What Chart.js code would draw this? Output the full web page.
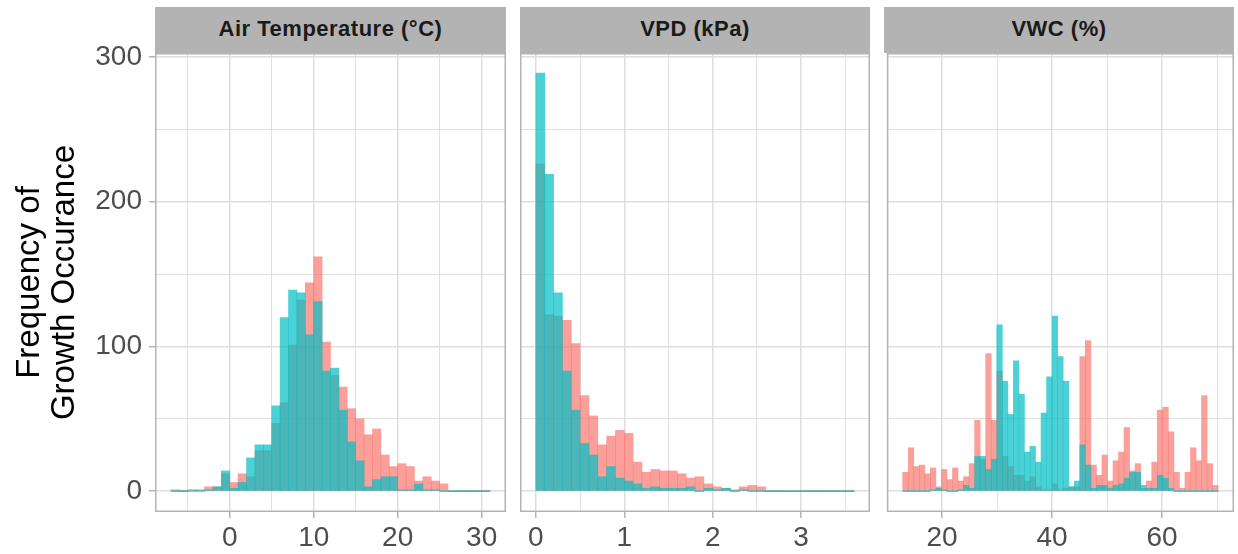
<!DOCTYPE html>
<html>
<head>
<meta charset="utf-8">
<script src="https://cdn.jsdelivr.net/npm/chart.js@4.4.1/dist/chart.umd.min.js"></script>
<style>
  html, body { margin: 0; padding: 0; background: #ffffff; }
  body { width: 1238px; height: 554px; overflow: hidden; position: relative; font-family: "Liberation Sans", Arial, sans-serif; }
  canvas { position: absolute; top: 0; }
  .strip { position: absolute; top: 7px; height: 43px; padding-bottom: 3px; background: #b3b3b3; color: #1a1a1a;
           font-weight: bold; font-size: 22px; letter-spacing: 0.5px;
           display: flex; align-items: center; justify-content: center; }
</style>
</head>
<body>
<div class="strip" style="left:155px;width:351px;">Air Temperature (°C)</div>
<div class="strip" style="left:520px;width:350px;">VPD (kPa)</div>
<div class="strip" style="left:884px;width:350px;">VWC (%)</div>
<canvas id="p1" width="506" height="554" style="left:0px"></canvas>
<canvas id="p2" width="350" height="554" style="left:520px"></canvas>
<canvas id="p3" width="350" height="554" style="left:884px"></canvas>
<script>
// ---------- data ----------
const seriesNames = ["Series 1", "Series 2"];

// Air Temperature (°C): bins of 1 °C starting at -7
const tempBinStart = -7;
const tempBinWidth = 1;
const tempSalmon = [1, 0, 0, 0, 3, 3, 12, 6, 12, 10, 28, 28, 47, 61, 101, 132, 144, 162, 103, 80,
                    72, 57, 50, 39, 43, 25, 17, 19, 17, 7, 10, 7, 5, 0, 0, 0, 0, 0];
const tempTeal   = [0, 0, 1, 1, 1, 3, 14, 2, 6, 23, 32, 32, 59, 120, 139, 137, 108, 131, 83, 85,
                    56, 34, 21, 3, 8, 10, 10, 1, 1, 5, 1, 1, 0, 0, 0, 0, 0, 0];

// VPD (kPa): bins of 0.1 kPa starting at 0
const vpdBinStart = 0;
const vpdBinWidth = 0.1;
const vpdSalmon = [226, 122, 121, 118, 102, 66, 52, 32, 38, 42, 40, 20, 13, 15, 14, 14, 12, 9, 10, 5,
                   3, 2, 1, 3, 4, 3, 0, 0, 0, 0, 0, 0, 0, 0, 0, 0];
const vpdTeal   = [289, 219, 137, 83, 56, 33, 25, 10, 17, 9, 7, 5, 2, 3, 2, 2, 2, 3, 0, 2,
                   1, 2, 0, 1, 0, 0, 0, 0, 0, 0, 0, 0, 0, 0, 0, 0];

// VWC (%): bins of ~1 % starting at 12.85
const vwcBinStart = 12.85;
const vwcBinWidth = 1.006;
const vwcSalmon = [13, 30, 17, 18, 12, 16, 3, 15, 8, 16, 7, 10, 19, 49, 22, 95, 49, 83, 24, 17,
                   11, 11, 7, 10, 3, 1, 1, 5, 1, 2, 3, 3, 93, 104, 18, 11, 25, 7, 21, 27,
                   44, 14, 19, 2, 7, 20, 56, 58, 41, 13, 2, 13, 30, 21, 66, 19, 4];
const vwcTeal   = [0, 0, 0, 0, 0, 1, 2, 1, 0, 0, 1, 4, 2, 24, 24, 15, 22, 115, 76, 53,
                   90, 67, 27, 31, 20, 54, 79, 121, 93, 76, 3, 7, 32, 18, 2, 4, 4, 2, 4, 5,
                   9, 13, 13, 4, 2, 2, 11, 9, 2, 0, 0, 0, 0, 0, 0, 0, 0];

// tick labels
const yTicks = [0, 100, 200, 300];
const yMinor = [50, 150, 250];
const tempTicks = [0, 10, 20, 30];
const tempMinor = [-5, 5, 15, 25];
const vpdTicks = [0, 1, 2, 3];
const vpdMinor = [0.5, 1.5, 2.5, 3.5];
const vwcTicks = [20, 40, 60];
const vwcMinor = [10, 30, 50, 70];

// axis limits (ggplot-style 5% expansion)
const yLimits = [-14.4, 302.8];
const tempLimits = [-8.9, 32.9];
const vpdLimits = [-0.18, 3.78];
const vwcLimits = [9.98, 73.07];

// ---------- drawing ----------
const SALMON = "rgba(248,118,109,0.7)";
const TEAL = "rgba(0,191,196,0.7)";
const GRID = "#dedede";
const BORDER = "#b3b3b3";
const TICKTXT = "#4d4d4d";
const FONT = "'Liberation Sans', Arial, Helvetica, sans-serif";

function toPoints(values, start, width) {
  return values.map((v, i) => ({ x: start + width * (i + 0.5), y: v }));
}

const panelBorder = {
  id: "panelBorder",
  afterDraw(chart) {
    const a = chart.chartArea, ctx = chart.ctx;
    ctx.save();
    ctx.strokeStyle = BORDER;
    ctx.lineWidth = 1.5;
    ctx.strokeRect(a.left + 0.75, a.top + 0.75, a.right - a.left - 1.5, a.bottom - a.top - 1.5);
    ctx.restore();
  }
};

function makePanel(id, salmon, teal, start, width, limits, major, minor, showY) {
  const majorSet = new Set(major);
  const yMajorSet = new Set(yTicks);
  const allX = major.concat(minor).sort((a, b) => a - b);
  const allY = yTicks.concat(yMinor).sort((a, b) => a - b);
  new Chart(document.getElementById(id), {
    type: "bar",
    data: {
      datasets: [
        { label: seriesNames[0], data: toPoints(salmon, start, width), backgroundColor: SALMON,
          borderWidth: 0, order: 2, minBarLength: 1 },
        { label: seriesNames[1], data: toPoints(teal, start, width), backgroundColor: TEAL,
          borderWidth: 0, order: 1, minBarLength: 1 }
      ]
    },
    options: {
      responsive: false,
      animation: false,
      devicePixelRatio: 1,
      events: [],
      layout: { padding: { top: 53, left: 0, right: 0, bottom: 0 } },
      plugins: { legend: { display: false }, tooltip: { enabled: false }, title: { display: false } },
      datasets: { bar: { grouped: false, barPercentage: 1, categoryPercentage: 1 } },
      scales: {
        x: {
          type: "linear",
          min: limits[0], max: limits[1],
          offset: false,
          afterBuildTicks: s => { s.ticks = allX.map(v => ({ value: v })); },
          afterFit: s => { s.height = 42; },
          border: { display: false },
          grid: {
            offset: false,
            color: GRID,
            lineWidth: c => (c.tick && majorSet.has(c.tick.value)) ? 1.5 : 0.9,
            tickColor: c => (c.tick && majorSet.has(c.tick.value)) ? BORDER : "rgba(0,0,0,0)",
            tickWidth: 1.5,
            tickLength: 6,
            drawTicks: true
          },
          ticks: {
            autoSkip: false,
            maxRotation: 0,
            padding: 3,
            color: TICKTXT,
            font: { family: FONT, size: 28, lineHeight: 1.2 },
            callback: v => majorSet.has(v) ? String(v) : ""
          }
        },
        y: {
          type: "linear",
          min: yLimits[0], max: yLimits[1],
          afterBuildTicks: s => { s.ticks = allY.map(v => ({ value: v })); },
          afterFit: s => { s.width = showY ? 155 : 0; },
          border: { display: false },
          grid: {
            color: GRID,
            lineWidth: c => (c.tick && yMajorSet.has(c.tick.value)) ? 1.5 : 0.9,
            tickColor: c => (showY && c.tick && yMajorSet.has(c.tick.value)) ? BORDER : "rgba(0,0,0,0)",
            tickWidth: 1.5,
            tickLength: showY ? 6 : 0,
            drawTicks: showY
          },
          ticks: {
            display: showY,
            padding: 7,
            color: TICKTXT,
            font: { family: FONT, size: 28, lineHeight: 1.2 },
            callback: v => yMajorSet.has(v) ? String(v) : ""
          },
          title: {
            display: showY,
            text: ["Frequency of", "Growth Occurance"],
            color: "#000000",
            font: { family: FONT, size: 33, lineHeight: 1.06 },
            padding: { top: 12, bottom: 0 }
          }
        }
      }
    },
    plugins: [panelBorder]
  });
}

makePanel("p1", tempSalmon, tempTeal, tempBinStart, tempBinWidth, tempLimits, tempTicks, tempMinor, true);
makePanel("p2", vpdSalmon, vpdTeal, vpdBinStart, vpdBinWidth, vpdLimits, vpdTicks, vpdMinor, false);
makePanel("p3", vwcSalmon, vwcTeal, vwcBinStart, vwcBinWidth, vwcLimits, vwcTicks, vwcMinor, false);
</script>
</body>
</html>
